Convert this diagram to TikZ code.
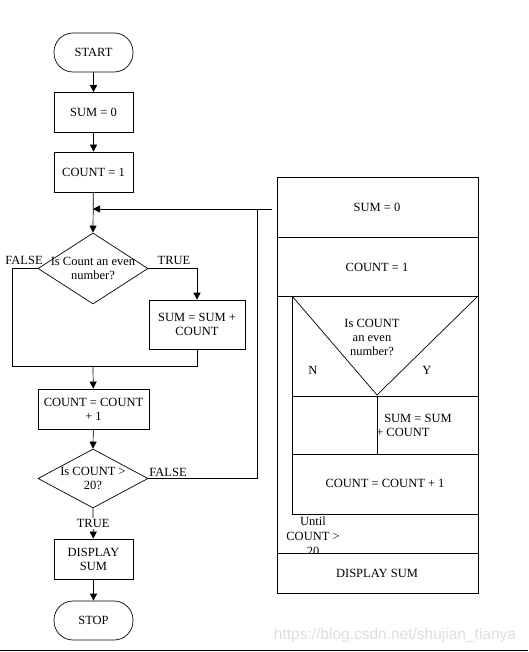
\documentclass[tikz,border=0pt]{standalone}
\usepackage{fontspec}
\setmainfont{Liberation Serif}
\newfontfamily\diagfont{Liberation Serif}
\newfontfamily\marksans{Liberation Sans}
\usetikzlibrary{arrows.meta,positioning,shapes.geometric}

\tikzset{
  box/.style={draw, minimum width=79pt, minimum height=40pt, align=center, inner sep=2pt},
  term/.style={draw, rounded corners=19pt, minimum width=79pt, minimum height=39pt},
  decide/.style={draw, diamond, inner sep=0pt, minimum width=110pt},
  nstext/.style={align=center}
}

\begin{document}
\begin{tikzpicture}[x=1pt, y=-1pt, >={Triangle[width=7pt,length=7pt]},
    line width=0.7pt, font=\diagfont\fontsize{12.5}{14}\selectfont]
        \useasboundingbox (0,0) rectangle (528,652);
        % left flowchart
        \node[term] (start) at (93.5,52.5) {START};
        \node[box] (sum0) at (93.5,112.5) {SUM = 0};
        \node[box] (cnt1) at (93.5,172) {COUNT = 1};
        \node[decide, minimum height=71pt,
              label={[align=center]center:Is Count an even\\number?}] (even) at (93,268.5) {};
        \node[box, minimum width=96pt, minimum height=49pt] (add) at (197,324.5) {SUM = SUM +\\COUNT};
        \node[box, minimum width=111pt] (inc) at (93.5,409) {COUNT = COUNT\\+ 1};
        \node[decide, minimum height=59pt,
              label={[align=center]center:Is COUNT >\\20?}] (gt) at (93,478.5) {};
        \node[box] (disp) at (93.5,559) {DISPLAY\\SUM};
        \node[term] (stop) at (93.5,620.5) {STOP};

        \coordinate (merge) at (93,209);
        \coordinate (back) at (257,209);
        \coordinate (stub) at (272,209);
        \coordinate (lft) at (12,366);
        \coordinate (join) at (93,366);

        \draw[->] (start) -- (sum0);
        \draw[->] (sum0) -- (cnt1);
        \draw[->] (cnt1) -- (even.north);
        \draw[->] (even.east) -| (add.north);
        \draw (even.west) -| (lft) -| (add.south);
        \draw[->] (join) -- (inc);
        \draw[->] (inc) -- (gt.north);
        \draw[->] (gt.south) -- node[fill=white, inner sep=1pt] {TRUE} (disp);
        \draw[->] (disp) -- (stop);
        \draw[->] (gt.east) -| (back) -- (merge);
        \draw (back) -- (stub);

        \node (f1) at (24,260) {FALSE};
        \node (t1) at (174,260) {TRUE};
        \node (f2) at (168,472) {FALSE};

        % Nassi-Shneiderman chart
        \draw (277,177) rectangle (478,593);
        \draw (277,237) -- (478,237);
        \draw (277,296) -- (478,296);
        \draw (292,296) -- (292,514);
        \draw (292,296) -- (377,395) -- (478,296);
        \draw (292,396) -- (478,396);
        \draw (377,396) -- (377,454);
        \draw (292,454) -- (478,454);
        \draw (292,514) -- (478,514);
        \node (ns1) at (377,207) {SUM = 0};
        \node (ns2) at (377,267) {COUNT = 1};
        \node[nstext] (nsq) at (372,337) {Is COUNT\\an even\\number?};
        \node (nsn) at (313,370) {N};
        \node (nsy) at (427,370) {Y};
        \node[align=left] (nsadd) at (414,425) {\hspace{8pt}SUM = SUM\\+ COUNT};
        \node (nsinc) at (385,483) {COUNT = COUNT + 1};
        \node[nstext, font=\diagfont\fontsize{12.5}{15}\selectfont] (nsu) at (313,536) {Until\\COUNT >\\20};
        \fill[white] (278,553.5) rectangle (477.5,560);
        \draw (277,553) -- (478,553);
        \node (nsdisp) at (377,573) {DISPLAY SUM};

        \node[text=black!13, font=\marksans\fontsize{15.5}{16}\selectfont] (mark) at (395,635) {https://blog.csdn.net/shujian\_tianya};
        \draw[line width=1pt] (0,650) -- (528,650);
\end{tikzpicture}
\end{document}
